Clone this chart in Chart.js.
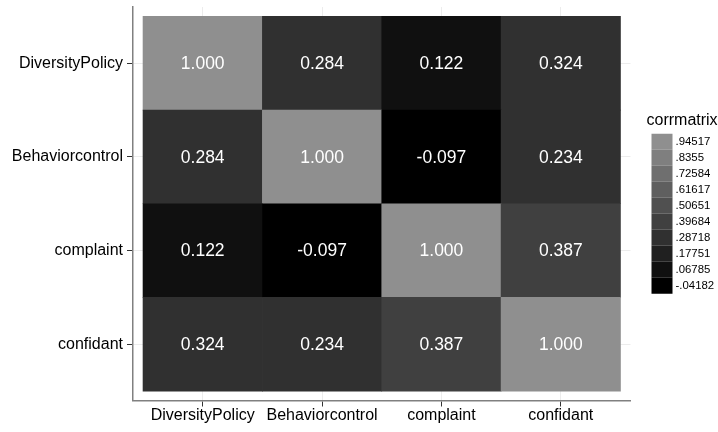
<!DOCTYPE html>
<html>
<head>
<meta charset="utf-8">
<script src="https://cdn.jsdelivr.net/npm/chart.js@4/dist/chart.umd.min.js"></script>
<style>
  html, body { margin: 0; padding: 0; background: #fff; }
  #wrap { width: 718px; height: 432px; }
</style>
</head>
<body>
<div id="wrap"><canvas id="heat" width="718" height="432"></canvas></div>
<script>
// variables, top row first / left column first
var varNames = ['DiversityPolicy', 'Behaviorcontrol', 'complaint', 'confidant'];

// correlation rows
var corrDiversityPolicy = [1.000, 0.284, 0.122, 0.324];
var corrBehaviorcontrol = [0.284, 1.000, -0.097, 0.234];
var corrComplaint       = [0.122, -0.097, 1.000, 0.387];
var corrConfidant       = [0.324, 0.234, 0.387, 1.000];

// legend (bin midpoints, top to bottom)
var legendTicks = ['.94517', '.8355', '.72584', '.61617', '.50651', '.39684', '.28718', '.17751', '.06785', '-.04182'];
var legendMids  = [0.94517, 0.8355, 0.72584, 0.61617, 0.50651, 0.39684, 0.28718, 0.17751, 0.06785, -0.04182];
var legendGrays = ['#8f8f8f', '#7f7f7f', '#6f6f6f', '#5f5f5f', '#505050', '#404040', '#303030', '#202020', '#101010', '#000000'];

var FONT = "'Liberation Sans', Arial, Helvetica, sans-serif";

function shadeFor(v) {
    // nearest bin midpoint
    var best = 0, d = Infinity;
    for (var i = 0; i < legendMids.length; i++) {
        var dd = Math.abs(v - legendMids[i]);
        if (dd < d) { d = dd; best = i; }
    }
    return legendGrays[best];
}

// rows stacked bottom-up
var rowsBottomUp = [
    { name: 'confidant', corr: corrConfidant },
    { name: 'complaint', corr: corrComplaint },
    { name: 'Behaviorcontrol', corr: corrBehaviorcontrol },
    { name: 'DiversityPolicy', corr: corrDiversityPolicy }
];

var datasets = rowsBottomUp.map(function(r) {
    return {
        label: r.name,
        corr: r.corr,
        data: r.corr.map(function(v, i) { return { x: i + 0.5, y: 1 }; }),
        backgroundColor: r.corr.map(shadeFor),
        borderWidth: 0,
        barPercentage: 1,
        categoryPercentage: 1
    };
});

var cellText = {
    id: 'cellText',
    afterDatasetsDraw: function(chart) {
        var ctx = chart.ctx;
        ctx.save();
        ctx.fillStyle = '#ffffff';
        ctx.font = '17.5px ' + FONT;
        ctx.textAlign = 'center';
        ctx.textBaseline = 'middle';
        chart.data.datasets.forEach(function(ds, d) {
            var meta = chart.getDatasetMeta(d);
            meta.data.forEach(function(bar, i) {
                ctx.fillText(ds.corr[i].toFixed(3), bar.x, (bar.y + bar.base) / 2 + 1);
            });
        });
        ctx.restore();
    }
};

var binLegend = {
    id: 'binLegend',
    afterDraw: function(chart) {
        var ctx = chart.ctx, a = chart.chartArea;
        var midY = (a.top + a.bottom) / 2;
        var x0 = a.right + 21, sw = 21, sh = 16;
        var top = midY - 70;
        ctx.save();
        ctx.fillStyle = '#000';
        ctx.font = '16px ' + FONT;
        ctx.textAlign = 'left';
        ctx.textBaseline = 'middle';
        ctx.fillText('corrmatrix', a.right + 16, top - 13);
        ctx.font = '11.4px ' + FONT;
        for (var i = 0; i < legendTicks.length; i++) {
            ctx.fillStyle = legendGrays[i];
            ctx.fillRect(x0, top + i * sh, sw, sh);
            ctx.fillStyle = '#000';
            ctx.fillText(legendTicks[i], x0 + sw + 3, top + i * sh + sh / 2 + 0.5);
        }
        ctx.restore();
    }
};

new Chart(document.getElementById('heat'), {
    type: 'bar',
    data: { datasets: datasets },
    plugins: [cellText, binLegend],
    options: {
        responsive: false,
        devicePixelRatio: 1,
        animation: false,
        layout: { padding: { top: 7, right: 87.5, left: 0, bottom: 0 } },
        plugins: { legend: { display: false }, tooltip: { enabled: false } },
        scales: {
            x: {
                type: 'linear', stacked: true, offset: false,
                min: -0.084, max: 4.084,
                afterBuildTicks: function(s) {
                    s.ticks = varNames.map(function(n, i) { return { value: i + 0.5 }; });
                },
                afterFit: function(s) {
                    s.height = 31.5;
                    s.paddingLeft = 0; s.paddingRight = 0;
                },
                grid: { offset: false, color: '#ececec', tickColor: '#333', tickLength: 6, lineWidth: 1 },
                border: { color: '#808080', width: 1.5 },
                ticks: {
                    autoSkip: false, maxRotation: 0, padding: -1,
                    color: '#000', font: { family: FONT, size: 16 },
                    callback: function(v, i) { return varNames[i]; }
                }
            },
            y: {
                type: 'linear', stacked: true, offset: false,
                min: -0.1, max: 4.1,
                afterBuildTicks: function(s) {
                    s.ticks = varNames.map(function(n, i) { return { value: i + 0.5 }; });
                },
                afterFit: function(s) {
                    s.width = 133;
                    s.paddingTop = 0; s.paddingBottom = 0;
                },
                grid: { offset: false, color: '#ececec', tickColor: '#333', tickLength: 6, lineWidth: 1 },
                border: { color: '#808080', width: 1.5 },
                ticks: {
                    autoSkip: false, padding: 4,
                    color: '#000', font: { family: FONT, size: 16 },
                    callback: function(v, i) { return varNames[varNames.length - 1 - i]; }
                }
            }
        }
    }
});
</script>
</body>
</html>
